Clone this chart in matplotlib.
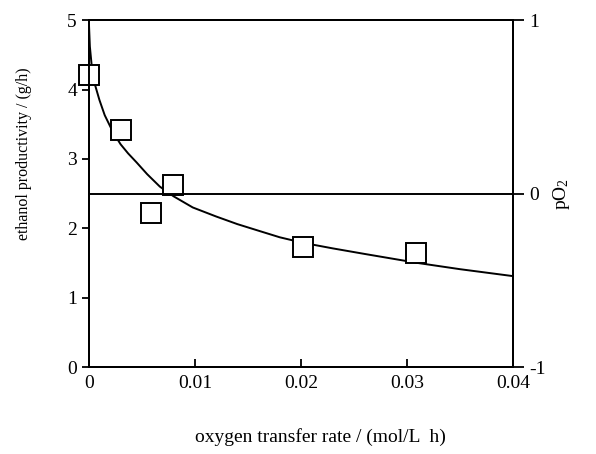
import numpy as np
import matplotlib.pyplot as plt

plt.rcParams['font.family'] = ['Liberation Serif', 'DejaVu Serif']
plt.rcParams['axes.unicode_minus'] = False
plt.rcParams['mathtext.fontset'] = 'stix'

# measured points (open squares)
otr = [0.0, 0.0030, 0.0059, 0.0079, 0.0202, 0.0308]
prod = [4.21, 3.41, 2.22, 2.63, 1.73, 1.65]

# fitted curve
curve_x = [0.0, 0.0001, 0.0003, 0.0006, 0.001, 0.0015, 0.0023, 0.003,
           0.0037, 0.0045, 0.0055, 0.0067, 0.008, 0.0098, 0.012, 0.014,
           0.0161, 0.018, 0.0202, 0.023, 0.026, 0.031, 0.035, 0.04]
curve_y = [5.0, 4.62, 4.30, 4.06, 3.85, 3.63, 3.38, 3.21,
           3.08, 2.95, 2.78, 2.60, 2.46, 2.30, 2.17, 2.06,
           1.96, 1.87, 1.79, 1.71, 1.63, 1.50, 1.41, 1.31]

xticks = [0, 0.01, 0.02, 0.03, 0.04]
xlabels = ['0', '0.01', '0.02', '0.03', '0.04']

fig = plt.figure(figsize=(5.96, 4.54), dpi=100)
ax = fig.add_axes([0.149, 0.1916, 0.712, 0.764])

ax.plot(curve_x, curve_y, color='black', lw=1.4, zorder=3)
ax.plot(otr, prod, ls='none', marker='s', ms=15, mfc='white', mec='black',
        mew=1.4, zorder=4, clip_on=False)

ax.set_xlim(0, 0.04)
ax.set_ylim(0, 5)
ax.set_xticks(xticks)
ax.set_xticklabels(xlabels)
ax.set_yticks([0, 1, 2, 3, 4, 5])
ax.tick_params(axis='x', direction='in', length=6, width=1.3, labelsize=14, pad=6)
ax.tick_params(axis='y', direction='out', length=5, width=1.3, labelsize=14)
for s in ax.spines.values():
    s.set_linewidth(1.4)

ax.set_xlabel('oxygen transfer rate / (mol/L  h)', fontsize=14)
ax.xaxis.set_label_coords(0.545, -0.175)
ax.set_ylabel('ethanol productivity / (g/h)', fontsize=11.5)
ax.yaxis.set_label_coords(-0.134, 0.614)

ax2 = ax.twinx()
ax2.set_ylim(-1, 1)
ax2.set_yticks([-1, 0, 1])
ax2.axhline(0, color='black', lw=1.4)
ax2.tick_params(axis='y', direction='out', length=8, width=1.3, labelsize=14)
ax2.set_ylabel(r'$\mathregular{pO_2}$', fontsize=14, labelpad=4)
for s in ax2.spines.values():
    s.set_linewidth(1.4)

fig.savefig('out.png', dpi=100)
